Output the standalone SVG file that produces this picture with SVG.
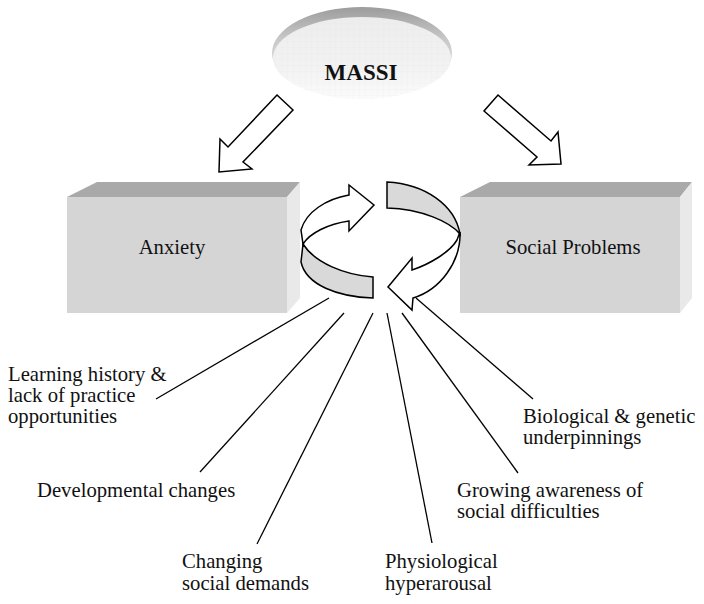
<svg xmlns="http://www.w3.org/2000/svg" width="704" height="604" viewBox="0 0 704 604">
<style>
.t{font-family:"Liberation Serif","Times New Roman",serif;font-size:20.7px;fill:#111}
.b{font-weight:bold;font-size:23px}
.top{fill:#a9a9a9}
.front{fill:#d5d5d5}
.side{fill:#e9e9e9}
.arr{fill:#fff;stroke:#000;stroke-width:1.5;stroke-linejoin:miter}
.band{fill:#d9d9d9;stroke:#000;stroke-width:1.5}
.ln{stroke:#000;stroke-width:1.3;fill:none}
</style>
<defs>
<linearGradient id="rim" x1="0" y1="0" x2="0" y2="1">
<stop offset="0" stop-color="#9c9c9c"/>
<stop offset="0.35" stop-color="#c8c8c8"/>
<stop offset="1" stop-color="#f2f2f2"/>
</linearGradient>
<linearGradient id="face" x1="0" y1="0" x2="0" y2="1">
<stop offset="0" stop-color="#ededed"/>
<stop offset="0.6" stop-color="#f2f2f2"/>
<stop offset="1" stop-color="#fbfbfb"/>
</linearGradient>
<pattern id="grid" width="6" height="6" patternUnits="userSpaceOnUse">
<path d="M6,0V6M0,6H6" stroke="#d8d8d8" stroke-width="0.6" fill="none"/>
</pattern>
</defs>

<g id="massi">
<ellipse cx="362" cy="53" rx="90" ry="46" fill="url(#rim)"/>
<ellipse cx="362" cy="58" rx="89" ry="41" fill="url(#face)"/>
<ellipse cx="362" cy="58" rx="89" ry="41" fill="url(#grid)" opacity="0.3"/>
<text class="t b" x="361" y="80" text-anchor="middle">MASSI</text>
</g>

<g id="anxiety">
<polygon class="top" points="67,197 97,182 300,182 287,197"/>
<polygon class="side" points="287,197 300,182 300,298 287,313"/>
<rect class="front" x="67" y="197" width="220" height="116"/>
<text class="t" x="172" y="254" text-anchor="middle">Anxiety</text>
</g>

<g id="social-problems">
<polygon class="top" points="460,197 490,182 692,182 680,197"/>
<polygon class="side" points="680,197 692,182 692,298 680,313"/>
<rect class="front" x="460" y="197" width="220" height="116"/>
<text class="t" x="573" y="254" text-anchor="middle">Social Problems</text>
</g>

<g id="cycle">
<path class="band" d="M303,244 C315,263 345,275 373,277 L373,298 C338,297 306,285 301,262 Z"/>
<path class="arr" d="M301,230 C306,212 326,199 349,195 L349,185 L374,205 L349,231 L349,221 C328,224 310,233 303,244 Z"/>
<path class="band" d="M387,182 C425,184 455,205 460,234 C450,222 422,209 387,208 Z"/>
<path class="arr" d="M460,232 C461,262 440,290 413,298 L412,310 L388,287 L412,258 L412,270 C430,264 450,252 457,240 Z"/>
</g>

<g id="connectors">
<polygon class="arr" points="277,95 293,110 243,162 252,169 219,172 220,139 228,147"/>
<polygon class="arr" points="498,95 551,141 558,132 561,164 529,165 537,157 484,111"/>
<line class="ln" x1="329" y1="298" x2="156" y2="399"/>
<line class="ln" x1="344" y1="313" x2="200" y2="472"/>
<line class="ln" x1="373" y1="313" x2="257" y2="544"/>
<line class="ln" x1="387" y1="313" x2="432" y2="543"/>
<line class="ln" x1="402" y1="313" x2="518" y2="473"/>
<line class="ln" x1="416" y1="298" x2="533" y2="399"/>
</g>

<g id="label-learning">
<text class="t" x="8" y="381">Learning history &amp;</text>
<text class="t" x="8" y="402">lack of practice</text>
<text class="t" x="8" y="423">opportunities</text>
</g>
<g id="label-developmental">
<text class="t" x="37" y="497">Developmental changes</text>
</g>
<g id="label-changing">
<text class="t" x="182" y="568">Changing</text>
<text class="t" x="182" y="590">social demands</text>
</g>
<g id="label-physiological">
<text class="t" x="385" y="568">Physiological</text>
<text class="t" x="385" y="590">hyperarousal</text>
</g>
<g id="label-growing">
<text class="t" x="457" y="497">Growing awareness of</text>
<text class="t" x="457" y="518">social difficulties</text>
</g>
<g id="label-biological">
<text class="t" x="523" y="423">Biological &amp; genetic</text>
<text class="t" x="523" y="444">underpinnings</text>
</g>
</svg>
